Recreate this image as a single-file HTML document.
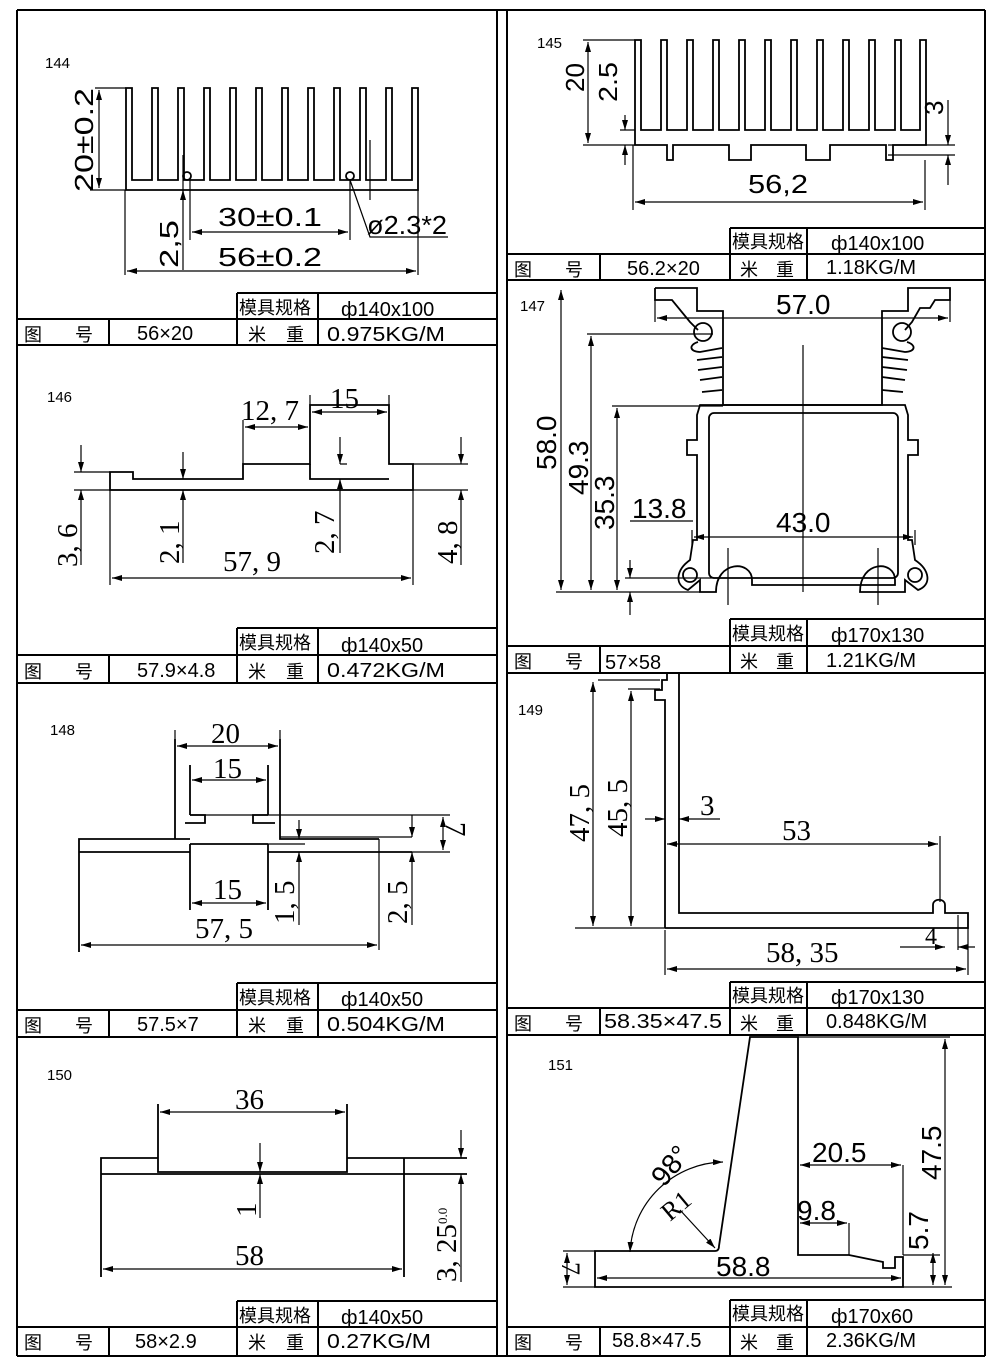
<!DOCTYPE html>
<html><head><meta charset="utf-8"><style>
html,body{margin:0;padding:0;background:#fff}
svg{display:block}
text{font-family:"Liberation Sans","Noto Sans CJK SC",sans-serif;fill:#000}
.t{font-size:20px}
.c{font-size:18px}
.n{font-family:"Liberation Serif",serif;font-size:15px}
.d{font-size:26px}
.s{font-size:29px}
.s text{font-family:"Liberation Serif",serif}
</style></head><body>
<svg width="1000" height="1372" viewBox="0 0 1000 1372" xmlns="http://www.w3.org/2000/svg">
<defs>
<marker id="a" viewBox="0 0 10 6" refX="10" refY="3" markerWidth="10" markerHeight="6" orient="auto-start-reverse" markerUnits="userSpaceOnUse"><path d="M0,0 L10,3 L0,6 Z" fill="#000"/></marker>
</defs>
<g stroke="#000" fill="none" stroke-width="2">
<line x1="17" y1="10" x2="985" y2="10"/>
<line x1="17" y1="10" x2="17" y2="1356"/>
<line x1="497" y1="10" x2="497" y2="1356"/>
<line x1="507" y1="10" x2="507" y2="1356"/>
<line x1="985" y1="10" x2="985" y2="1356"/>
<line x1="17" y1="1356" x2="985" y2="1356"/>
</g>

<g stroke="#000" fill="none" stroke-width="2">
<path d="M237,293 H497 M17,319 H497 M17,345 H497 M237,293 V345 M318,293 V345 M109,319 V345"/>
<path d="M237,628 H497 M17,655 H497 M17,683 H497 M237,628 V683 M318,628 V683 M109,655 V683"/>
<path d="M237,983 H497 M17,1010 H497 M17,1037 H497 M237,983 V1037 M318,983 V1037 M109,1010 V1037"/>
<path d="M237,1301 H497 M17,1327 H497 M237,1301 V1356 M318,1301 V1356 M109,1327 V1356"/>
<path d="M730,228 H985 M507,254 H985 M507,280 H985 M730,228 V280 M807,228 V280 M600,254 V280"/>
<path d="M730,619 H985 M507,646 H985 M507,673 H985 M730,619 V673 M807,619 V673 M600,646 V673"/>
<path d="M730,982 H985 M507,1008 H985 M507,1035 H985 M730,982 V1035 M807,982 V1035 M600,1008 V1035"/>
<path d="M730,1300 H985 M507,1327 H985 M730,1300 V1356 M807,1300 V1356 M600,1327 V1356"/>
</g>
<g class="t">
<text class="c" x="239" y="314">模具规格</text><text x="341" y="316">ф140x100</text>
<text class="c" x="24" y="341">图</text><text class="c" x="75" y="341">号</text><text x="137" y="340">56×20</text><text class="c" x="248" y="341">米</text><text class="c" x="286" y="341">重</text><text x="327" y="341" textLength="118" lengthAdjust="spacingAndGlyphs">0.975KG/M</text>

<text class="c" x="239" y="649">模具规格</text><text x="341" y="652">ф140x50</text>
<text class="c" x="24" y="678">图</text><text class="c" x="75" y="678">号</text><text x="137" y="677">57.9×4.8</text><text class="c" x="248" y="678">米</text><text class="c" x="286" y="678">重</text><text x="327" y="677" textLength="118" lengthAdjust="spacingAndGlyphs">0.472KG/M</text>

<text class="c" x="239" y="1004">模具规格</text><text x="341" y="1006">ф140x50</text>
<text class="c" x="24" y="1032">图</text><text class="c" x="75" y="1032">号</text><text x="137" y="1031">57.5×7</text><text class="c" x="248" y="1032">米</text><text class="c" x="286" y="1032">重</text><text x="327" y="1031" textLength="118" lengthAdjust="spacingAndGlyphs">0.504KG/M</text>

<text class="c" x="239" y="1322">模具规格</text><text x="341" y="1324">ф140x50</text>
<text class="c" x="24" y="1349">图</text><text class="c" x="75" y="1349">号</text><text x="135" y="1348">58×2.9</text><text class="c" x="248" y="1349">米</text><text class="c" x="286" y="1349">重</text><text x="327" y="1348" textLength="104" lengthAdjust="spacingAndGlyphs">0.27KG/M</text>

<text class="c" x="732" y="248">模具规格</text><text x="831" y="250">ф140x100</text>
<text class="c" x="514" y="276">图</text><text class="c" x="565" y="276">号</text><text x="627" y="275">56.2×20</text><text class="c" x="740" y="276">米</text><text class="c" x="776" y="276">重</text><text x="826" y="274">1.18KG/M</text>

<text class="c" x="732" y="640">模具规格</text><text x="831" y="642">ф170x130</text>
<text class="c" x="514" y="668">图</text><text class="c" x="565" y="668">号</text><text x="605" y="669">57×58</text><text class="c" x="740" y="668">米</text><text class="c" x="776" y="668">重</text><text x="826" y="667">1.21KG/M</text>

<text class="c" x="732" y="1002">模具规格</text><text x="831" y="1004">ф170x130</text>
<text class="c" x="514" y="1030">图</text><text class="c" x="565" y="1030">号</text><text x="604" y="1028" textLength="118" lengthAdjust="spacingAndGlyphs">58.35×47.5</text><text class="c" x="740" y="1030">米</text><text class="c" x="776" y="1030">重</text><text x="826" y="1028">0.848KG/M</text>

<text class="c" x="732" y="1320">模具规格</text><text x="831" y="1323">ф170x60</text>
<text class="c" x="514" y="1349">图</text><text class="c" x="565" y="1349">号</text><text x="612" y="1347">58.8×47.5</text><text class="c" x="740" y="1349">米</text><text class="c" x="776" y="1349">重</text><text x="826" y="1347">2.36KG/M</text>
</g>

<g class="n"><text x="45" y="68">144</text><text x="537" y="48">145</text><text x="47" y="402">146</text><text x="520" y="311">147</text><text x="50" y="735">148</text><text x="518" y="715">149</text><text x="47" y="1080">150</text><text x="548" y="1070">151</text></g>

<!-- 144 -->
<g stroke="#000" fill="none" stroke-width="1.8">
<path d="M126,190 V88 H132 V180 H152 V88 H158 V180 H178 V88 H184 V180 H204 V88 H210 V180 H230 V88 H236 V180 H256 V88 H262 V180 H282 V88 H288 V180 H308 V88 H314 V180 H334 V88 H340 V180 H360 V88 H366 V180 H386 V88 H392 V180 H412 V88 H418 V190 Z"/>
<circle cx="187" cy="176" r="4"/><circle cx="350" cy="176" r="4"/>
<path d="M95,88 H126 M90,190 H126" stroke-width="1.2"/>
<line x1="99" y1="90" x2="99" y2="188" stroke-width="1.2" marker-start="url(#a)" marker-end="url(#a)"/>
<path d="M125,190 V275 M418,190 V275 M190,180 V240 M350,180 V240 M183,155 V270 M370,140 V200" stroke-width="1.2"/>
<line x1="127" y1="271" x2="416" y2="271" stroke-width="1.2" marker-start="url(#a)" marker-end="url(#a)"/>
<line x1="192" y1="232" x2="348" y2="232" stroke-width="1.2" marker-start="url(#a)" marker-end="url(#a)"/>
<line x1="183" y1="200" x2="183" y2="190" stroke-width="1.2" marker-end="url(#a)"/>
<path d="M350,180 L370,237 H448" stroke-width="1.2"/>
</g>
<g class="d"><text transform="translate(93,192) rotate(-90)" textLength="104" lengthAdjust="spacingAndGlyphs">20±0.2</text>
<text x="218" y="226" textLength="104" lengthAdjust="spacingAndGlyphs">30±0.1</text>
<text x="218" y="266" textLength="104" lengthAdjust="spacingAndGlyphs">56±0.2</text>
<text transform="translate(178,268) rotate(-90)" textLength="48" lengthAdjust="spacingAndGlyphs">2,5</text>
<text x="367" y="234" textLength="80" lengthAdjust="spacingAndGlyphs">ø2.3*2</text></g>

<!-- 145 -->
<g stroke="#000" fill="none" stroke-width="1.8">
<path d="M635,145 V40 H641 V130 H661 V40 H667 V130 H687 V40 H693 V130 H713 V40 H719 V130 H739 V40 H745 V130 H765 V40 H771 V130 H791 V40 H797 V130 H817 V40 H823 V130 H843 V40 H849 V130 H869 V40 H875 V130 H895 V40 H901 V130 H920 V40 H926 V145 H893 V160 H886 V145 H830 V160 H806 V145 H751 V160 H729 V145 H673 V160 H667 V145 Z"/>
<path d="M583,40 H635 M583,145 H635 M620,130 H635 M888,145 H955 M888,155 H955 M633,145 V210 M925,160 V210" stroke-width="1.2"/>
<line x1="588" y1="42" x2="588" y2="143" stroke-width="1.2" marker-start="url(#a)" marker-end="url(#a)"/>
<line x1="625" y1="115" x2="625" y2="130" stroke-width="1.2" marker-end="url(#a)"/>
<line x1="625" y1="165" x2="625" y2="145" stroke-width="1.2" marker-end="url(#a)"/>
<line x1="948" y1="100" x2="948" y2="145" stroke-width="1.2" marker-end="url(#a)"/>
<line x1="948" y1="185" x2="948" y2="155" stroke-width="1.2" marker-end="url(#a)"/>
<line x1="635" y1="202" x2="923" y2="202" stroke-width="1.2" marker-start="url(#a)" marker-end="url(#a)"/>
</g>
<g class="d"><text transform="translate(584,92) rotate(-90)">20</text><text transform="translate(617,102) rotate(-90)" textLength="40" lengthAdjust="spacingAndGlyphs">2.5</text><text transform="translate(943,115) rotate(-90)">3</text><text x="748" y="193" textLength="60" lengthAdjust="spacingAndGlyphs">56,2</text></g>

<!-- 146 -->
<g stroke="#000" fill="none" stroke-width="1.8">
<path d="M110,490 V472 H133 V479 H243 V464 H310 V405 H389 V464 H413 V490 Z"/>
<path d="M310,464 V479 H389"/>
<path d="M74,472 H110 M74,490 H468 M413,464 H468 M243,420 V464 M310,395 V405 M389,395 V405 M110,490 V585 M413,490 V585 M340,464 H347" stroke-width="1.2"/>
<line x1="112" y1="578" x2="411" y2="578" stroke-width="1.2" marker-start="url(#a)" marker-end="url(#a)"/>
<line x1="245" y1="427" x2="308" y2="427" stroke-width="1.2" marker-start="url(#a)" marker-end="url(#a)"/>
<line x1="312" y1="412" x2="387" y2="412" stroke-width="1.2" marker-start="url(#a)" marker-end="url(#a)"/>
<line x1="81" y1="445" x2="81" y2="472" stroke-width="1.2" marker-end="url(#a)"/><line x1="81" y1="565" x2="81" y2="490" stroke-width="1.2" marker-end="url(#a)"/>
<line x1="183" y1="452" x2="183" y2="479" stroke-width="1.2" marker-end="url(#a)"/><line x1="183" y1="563" x2="183" y2="490" stroke-width="1.2" marker-end="url(#a)"/>
<line x1="340" y1="437" x2="340" y2="464" stroke-width="1.2" marker-end="url(#a)"/><line x1="340" y1="553" x2="340" y2="479" stroke-width="1.2" marker-end="url(#a)"/>
<line x1="461" y1="437" x2="461" y2="464" stroke-width="1.2" marker-end="url(#a)"/><line x1="461" y1="565" x2="461" y2="490" stroke-width="1.2" marker-end="url(#a)"/>
</g>
<g class="s"><text x="241" y="420">12, 7</text><text x="330" y="408">15</text>
<text x="223" y="571">57, 9</text>
<text transform="translate(77,567) rotate(-90)">3, 6</text>
<text transform="translate(179,564) rotate(-90)">2, 1</text>
<text transform="translate(334,554) rotate(-90)">2, 7</text>
<text transform="translate(457,564) rotate(-90)">4, 8</text></g>

<!-- 147 -->
<g stroke="#000" fill="none" stroke-width="1.8">
<path d="M655,288 H697 V311 H723 V405 H882 V311 H908 V288 H950 V300 H935 L930,308 H920 L912,322 L905,330"/>
<path d="M655,288 V300 H672 L690,322 L698,330"/>
<circle cx="703" cy="332" r="9"/><circle cx="902" cy="332" r="9"/>
<path d="M698,342 C688,345 690,352 700,352 L722,348 M697,360 L722,357 M698,370 L722,367 M700,380 L722,377 M702,392 L722,390"/>
<path d="M907,342 C917,345 915,352 905,352 L882,348 M908,360 L882,357 M907,370 L882,367 M905,380 L882,377 M903,392 L882,390"/>
<path d="M700,405 H905 L908,415 V440 H918 V455 H908 V540 H912 L915,560 C930,570 932,585 918,590 L905,580 V592 H860 C860,560 895,560 895,580 V585 H752 V580 C752,560 716,560 716,592 H700 V580 L688,590 C674,585 676,570 690,560 L693,540 H697 V455 H687 V440 H697 V415 Z"/>
<rect x="709" y="413" width="189" height="165" rx="5"/>
<circle cx="690" cy="575" r="7"/><circle cx="915" cy="575" r="7"/>
<path d="M803,345 V592 M728,548 V605 M878,548 V605 M556,592 H700 M587,334 H713 M612,406 H723 M630,521 H693 M625,578 H720 M655,300 V322 M950,300 V322 M692,530 V545 M915,530 V545" stroke-width="1.2"/>
<line x1="561" y1="290" x2="561" y2="590" stroke-width="1.2" marker-start="url(#a)" marker-end="url(#a)"/>
<line x1="591" y1="336" x2="591" y2="590" stroke-width="1.2" marker-start="url(#a)" marker-end="url(#a)"/>
<line x1="617" y1="408" x2="617" y2="590" stroke-width="1.2" marker-start="url(#a)" marker-end="url(#a)"/>
<line x1="630" y1="560" x2="630" y2="578" stroke-width="1.2" marker-end="url(#a)"/><line x1="630" y1="615" x2="630" y2="592" stroke-width="1.2" marker-end="url(#a)"/>
<line x1="657" y1="318" x2="948" y2="318" stroke-width="1.2" marker-start="url(#a)" marker-end="url(#a)"/>
<line x1="694" y1="537" x2="913" y2="537" stroke-width="1.2" marker-start="url(#a)" marker-end="url(#a)"/>
</g>
<g class="d"><text x="776" y="314" font-size="28">57.0</text><text x="776" y="532" font-size="28">43.0</text><text x="632" y="518" font-size="28">13.8</text>
<text transform="translate(556,470) rotate(-90)" font-size="28">58.0</text>
<text transform="translate(588,495) rotate(-90)" font-size="28">49.3</text>
<text transform="translate(614,530) rotate(-90)" font-size="28">35.3</text></g>

<!-- 148 -->
<g stroke="#000" fill="none" stroke-width="1.8">
<path d="M79,952 V839 H175 V739 M280,739 V839 H379 M175,839 H190 M190,765 V815 M268,765 V815 M190,815 H205 V823 H185 M268,815 H253 V823 H275 M190,844 H268 M79,852 H190 M268,852 H412 M190,844 V910 M268,844 V910"/>
<path d="M190,815 H450 M280,837 H412 M268,844 H305 M412,852 H450 M379,839 V950 M175,739 V730 M280,739 V730" stroke-width="1.2"/>
<line x1="177" y1="746" x2="278" y2="746" stroke-width="1.2" marker-start="url(#a)" marker-end="url(#a)"/>
<line x1="192" y1="780" x2="266" y2="780" stroke-width="1.2" marker-start="url(#a)" marker-end="url(#a)"/>
<line x1="192" y1="903" x2="266" y2="903" stroke-width="1.2" marker-start="url(#a)" marker-end="url(#a)"/>
<line x1="81" y1="945" x2="377" y2="945" stroke-width="1.2" marker-start="url(#a)" marker-end="url(#a)"/>
<line x1="443" y1="817" x2="443" y2="850" stroke-width="1.2" marker-start="url(#a)" marker-end="url(#a)"/>
<line x1="299" y1="820" x2="299" y2="839" stroke-width="1.2" marker-end="url(#a)"/><line x1="299" y1="925" x2="299" y2="852" stroke-width="1.2" marker-end="url(#a)"/>
<line x1="412" y1="815" x2="412" y2="837" stroke-width="1.2" marker-end="url(#a)"/><line x1="412" y1="925" x2="412" y2="852" stroke-width="1.2" marker-end="url(#a)"/>
</g>
<g class="s"><text x="211" y="743">20</text><text x="213" y="778">15</text><text x="213" y="899">15</text><text x="195" y="938">57, 5</text>
<text transform="translate(446,822) rotate(90)">7</text>
<text transform="translate(294,924) rotate(-90)">1, 5</text>
<text transform="translate(407,924) rotate(-90)">2, 5</text></g>

<!-- 149 -->
<g stroke="#000" fill="none" stroke-width="1.8">
<path d="M665,928 V700 H655 V690 H662 V680 H667 V672 M679,672 V913 H933 V905 C933,898 945,898 945,905 V913 H968 V928 H665"/>
<path d="M575,928 H665 M598,680 H660 M628,689 H660 M940,836 V902 M665,930 V975 M968,928 V975 M958,915 V950" stroke-width="1.2"/>
<line x1="593" y1="682" x2="593" y2="926" stroke-width="1.2" marker-start="url(#a)" marker-end="url(#a)"/>
<line x1="631" y1="691" x2="631" y2="926" stroke-width="1.2" marker-start="url(#a)" marker-end="url(#a)"/>
<line x1="645" y1="819" x2="665" y2="819" stroke-width="1.2" marker-end="url(#a)"/><line x1="720" y1="819" x2="679" y2="819" stroke-width="1.2" marker-end="url(#a)"/>
<line x1="667" y1="844" x2="938" y2="844" stroke-width="1.2" marker-start="url(#a)" marker-end="url(#a)"/>
<line x1="667" y1="969" x2="966" y2="969" stroke-width="1.2" marker-start="url(#a)" marker-end="url(#a)"/>
<line x1="900" y1="947" x2="945" y2="947" stroke-width="1.2" marker-end="url(#a)"/><line x1="975" y1="947" x2="958" y2="947" stroke-width="1.2" marker-end="url(#a)"/>
</g>
<g class="s"><text x="700" y="815">3</text><text x="782" y="840">53</text><text x="766" y="962">58, 35</text>
<text transform="translate(589,842) rotate(-90)">47, 5</text>
<text transform="translate(627,837) rotate(-90)">45, 5</text>
<text x="925" y="944" font-size="24">4</text></g>

<!-- 150 -->
<g stroke="#000" fill="none" stroke-width="1.8">
<path d="M101,1277 V1158 H158 V1172 H347 V1158 H467 M158,1158 V1104 M347,1158 V1104 M101,1174 H467 M404,1158 V1277"/>
<line x1="160" y1="1112" x2="345" y2="1112" stroke-width="1.2" marker-start="url(#a)" marker-end="url(#a)"/>
<line x1="103" y1="1269" x2="402" y2="1269" stroke-width="1.2" marker-start="url(#a)" marker-end="url(#a)"/>
<line x1="260" y1="1143" x2="260" y2="1172" stroke-width="1.2" marker-end="url(#a)"/><line x1="260" y1="1218" x2="260" y2="1174" stroke-width="1.2" marker-end="url(#a)"/>
<line x1="461" y1="1130" x2="461" y2="1158" stroke-width="1.2" marker-end="url(#a)"/><line x1="461" y1="1282" x2="461" y2="1174" stroke-width="1.2" marker-end="url(#a)"/>
</g>
<g class="s"><text x="235" y="1109">36</text><text x="235" y="1265">58</text>
<text transform="translate(256,1217) rotate(-90)">1</text>
<text transform="translate(456,1282) rotate(-90)">3, 25<tspan font-size="13" dy="-9">0.0</tspan></text></g>

<!-- 151 -->
<g stroke="#000" fill="none" stroke-width="1.8">
<path d="M750,1037 H798 V1255 H849 L883,1262 V1268 H895 V1257 H903 V1287 H595 V1251 H715 Q719,1251 719,1246 Z"/>
<path d="M563,1251 H595 M563,1287 H595 M903,1287 H952 M798,1037 H950 M903,1255 H940 M903,1165 V1255 M849,1223 V1255" stroke-width="1.2"/>
<path d="M630,1252 A95,95 0 0 1 723,1162" stroke-width="1.2" marker-start="url(#a)" marker-end="url(#a)"/>
<line x1="680" y1="1210" x2="715" y2="1248" stroke-width="1.2" marker-end="url(#a)"/>
<line x1="945" y1="1039" x2="945" y2="1285" stroke-width="1.2" marker-start="url(#a)" marker-end="url(#a)"/>
<line x1="933" y1="1253" x2="933" y2="1285" stroke-width="1.2" marker-start="url(#a)" marker-end="url(#a)"/>
<line x1="567" y1="1253" x2="567" y2="1285" stroke-width="1.2" marker-start="url(#a)" marker-end="url(#a)"/>
<line x1="800" y1="1165" x2="901" y2="1165" stroke-width="1.2" marker-start="url(#a)" marker-end="url(#a)"/>
<line x1="800" y1="1223" x2="847" y2="1223" stroke-width="1.2" marker-start="url(#a)" marker-end="url(#a)"/>
<line x1="597" y1="1278" x2="901" y2="1278" stroke-width="1.2" marker-start="url(#a)" marker-end="url(#a)"/>
</g>
<g class="d"><text x="812" y="1162" font-size="28">20.5</text><text x="797" y="1220" font-size="28">9.8</text><text x="716" y="1276" font-size="28">58.8</text>
<text transform="translate(664,1188) rotate(-50)" font-size="28">98°</text>
<text transform="translate(670,1222) rotate(-40)" font-size="26" style="font-family:'Liberation Serif',serif">R1</text>
<text transform="translate(941,1180) rotate(-90)" font-size="28">47.5</text>
<text transform="translate(928,1250) rotate(-90)" font-size="28">5.7</text>
<text transform="translate(562,1262) rotate(90)" font-size="26" style="font-family:'Liberation Serif',serif">7</text></g>
</svg>
</body></html>
